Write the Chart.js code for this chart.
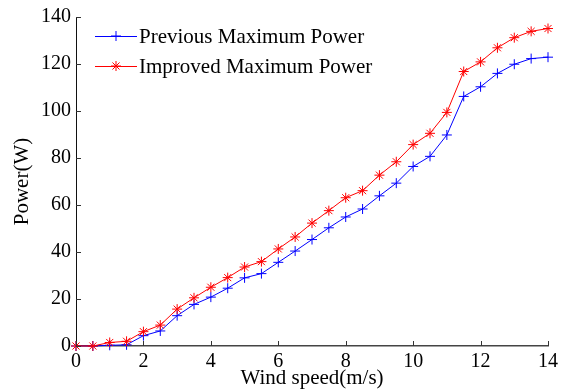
<!DOCTYPE html>
<html>
<head>
<meta charset="utf-8">
<script src="https://cdn.jsdelivr.net/npm/chart.js@4.4.0/dist/chart.umd.min.js"></script>
<style>
html,body{margin:0;padding:0;background:#fff;}
#wrap{width:566px;height:389px;position:relative;}
</style>
</head>
<body>
<div id="wrap"><canvas id="c" width="566" height="389"></canvas></div>
<script>
const windSpeed = [0,0.5,1,1.5,2,2.5,3,3.5,4,4.5,5,5.5,6,6.5,7,7.5,8,8.5,9,9.5,10,10.5,11,11.5,12,12.5,13,13.5,14];
const previousPower = [0,0,0.3,0.5,4.4,6.4,12.9,17.7,20.8,24.6,29.0,30.8,35.6,40.4,45.3,50.3,54.9,58.3,63.9,69.3,76.4,80.7,89.8,106.2,110.3,116.0,119.9,122.3,122.9];
const improvedPower = [0,0,1.5,2.0,6.1,8.9,15.7,20.5,25.0,29.1,33.6,35.9,41.3,46.4,52.3,57.6,63.1,66.1,72.7,78.4,85.7,90.5,99.4,116.8,120.9,126.9,131.2,133.9,135.1];
const seriesNames = ['Previous Maximum Power','Improved Maximum Power'];
const xTicks = [0,2,4,6,8,10,12,14];
const yTicks = [0,20,40,60,80,100,120,140];

const FONT = '"Liberation Serif","Times New Roman",serif';

function pts(ys){ return windSpeed.map((x,i)=>({x:x,y:ys[i]})); }

const inwardTicks = {
  id:'inwardTicks',
  afterDraw(chart){
    const ctx = chart.ctx, xs = chart.scales.x, ys = chart.scales.y;
    const a = chart.chartArea;
    ctx.save();
    ctx.strokeStyle = '#333';
    ctx.lineWidth = 1;
    ctx.beginPath();
    xTicks.forEach(v=>{
      const p = Math.round(xs.getPixelForValue(v))+0.5;
      ctx.moveTo(p,a.bottom); ctx.lineTo(p,a.bottom-5);
    });
    yTicks.forEach(v=>{
      const p = Math.round(ys.getPixelForValue(v))+0.5;
      ctx.moveTo(a.left,p); ctx.lineTo(a.left+5,p);
    });
    ctx.stroke();
    ctx.restore();
  }
};

const customLegend = {
  id:'customLegend',
  afterDraw(chart){
    const ctx = chart.ctx;
    ctx.save();
    const x0 = 95, x1 = 137, rows = [36,66];
    chart.data.datasets.forEach((ds,i)=>{
      const y = rows[i];
      ctx.strokeStyle = ds.borderColor;
      ctx.lineWidth = 1;
      ctx.beginPath(); ctx.moveTo(x0,y+0.5); ctx.lineTo(x1,y+0.5); ctx.stroke();
      Chart.helpers.drawPoint(ctx,{pointStyle:ds.pointStyle,radius:ds.pointRadius,borderWidth:1,rotation:0},(x0+x1)/2,y);
      ctx.fillStyle = '#000';
      ctx.font = '21px ' + FONT;
      ctx.textBaseline = 'middle';
      ctx.textAlign = 'left';
      ctx.fillText(seriesNames[i], 139, y+1);
    });
    ctx.restore();
  }
};

new Chart(document.getElementById('c'),{
  type:'line',
  data:{
    datasets:[
      {label:seriesNames[0],data:pts(previousPower),borderColor:'#0000ff',backgroundColor:'#0000ff',borderWidth:1,pointStyle:'cross',pointRadius:5,pointBorderWidth:1,pointBorderColor:'#0000ff',tension:0,clip:false,order:1},
      {label:seriesNames[1],data:pts(improvedPower),borderColor:'#ff0000',backgroundColor:'#ff0000',borderWidth:1,pointStyle:'star',pointRadius:5,pointBorderWidth:1,pointBorderColor:'#ff0000',tension:0,clip:false,order:0}
    ]
  },
  options:{
    responsive:false,
    animation:false,
    devicePixelRatio:1,
    layout:{padding:{top:16,right:18,left:0,bottom:0}},
    plugins:{legend:{display:false},tooltip:{enabled:false}},
    scales:{
      x:{
        type:'linear',min:0,max:14,
        afterFit(s){ s.height = 43; },
        afterBuildTicks(s){ s.ticks = xTicks.map(v=>({value:v})); },
        ticks:{color:'#000',font:{family:FONT,size:20},padding:4,maxRotation:0,autoSkip:false},
        grid:{display:true,drawOnChartArea:false,drawTicks:false},
        border:{display:true,color:'#444',width:1.5},
        title:{display:true,text:'Wind speed(m/s)',color:'#000',font:{family:FONT,size:21,lineHeight:1},padding:{top:0,bottom:0}}
      },
      y:{
        type:'linear',min:0,max:140,
        afterFit(s){ s.width = 76; },
        afterBuildTicks(s){ s.ticks = yTicks.map(v=>({value:v})); },
        ticks:{color:'#000',font:{family:FONT,size:20},padding:5,autoSkip:false},
        grid:{display:true,drawOnChartArea:false,drawTicks:false},
        border:{display:true,color:'#111',width:1},
        title:{display:true,text:'Power(W)',color:'#000',font:{family:FONT,size:21,lineHeight:1},padding:{top:12,bottom:0}}
      }
    }
  },
  plugins:[inwardTicks,customLegend]
});
</script>
</body>
</html>
